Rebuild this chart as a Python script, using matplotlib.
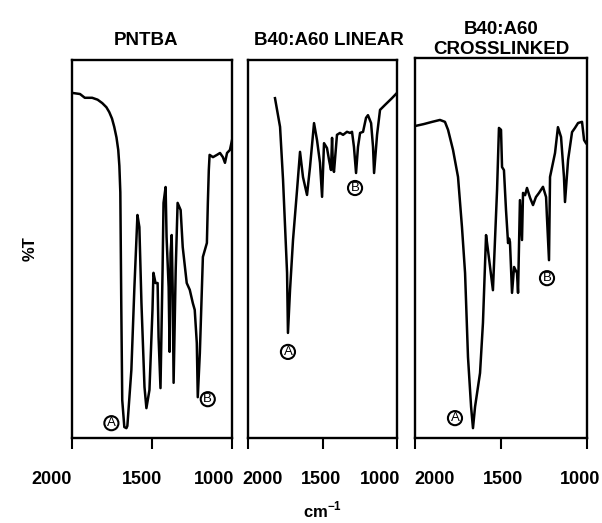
import numpy as np
import matplotlib
matplotlib.use("Agg")
import matplotlib.pyplot as plt
from matplotlib.transforms import ScaledTranslation

plt.rcParams['font.family'] = ['Liberation Sans', 'DejaVu Sans']

# Espectros IR (numero de onda cm-1, %T)
pntba_wn = [2000, 1950, 1920, 1874, 1840, 1811, 1785, 1767, 1750, 1736, 1722, 1711,
            1704, 1698, 1692, 1686, 1673, 1660, 1654, 1629, 1610, 1591, 1579, 1566,
            1547, 1535, 1516, 1497, 1491, 1478, 1465, 1459, 1447, 1434, 1428, 1415,
            1409, 1396, 1390, 1384, 1377, 1371, 1365, 1352, 1340, 1321, 1308, 1283,
            1264, 1245, 1233, 1220, 1214, 1201, 1182, 1157, 1151, 1145, 1140, 1119,
            1094, 1075, 1057, 1044, 1031, 1013, 1000]
pntba_t = [91.3, 91.0, 90.0, 90.0, 89.5, 88.6, 87.5, 86.2, 84.5, 82.3, 79.5, 76.2,
           72.0, 65.0, 35.0, 10.0, 2.9, 2.6, 3.2, 18.0, 39.9, 59.0, 55.8, 35.7,
           13.5, 7.9, 12.7, 33.9, 43.7, 41.0, 41.0, 26.7, 13.2, 44.4, 62.2, 66.4,
           53.2, 39.9, 22.8, 48.9, 53.7, 39.9, 14.6, 44.4, 62.2, 60.3, 50.5, 41.0,
           39.2, 35.7, 33.9, 25.1, 10.8, 22.5, 47.9, 51.6, 62.2, 70.9, 74.9, 74.3,
           74.9, 75.4, 74.3, 72.8, 75.4, 76.2, 78.8]

lin_wn = [1819, 1785, 1765, 1738, 1732, 1718, 1698, 1671, 1651, 1631, 1604, 1584,
          1557, 1537, 1517, 1503, 1490, 1470, 1456, 1443, 1436, 1430, 1423, 1403,
          1383, 1362, 1336, 1315, 1302, 1289, 1275, 1262, 1248, 1228, 1208, 1195,
          1174, 1161, 1154, 1134, 1114, 1081, 1034, 1000]
lin_t = [89.9, 82.3, 68.3, 43.7, 27.8, 39.2, 52.4, 65.6, 75.7, 69.0, 64.3, 71.7,
         83.3, 78.8, 72.8, 63.8, 78.0, 76.7, 73.5, 70.9, 79.4, 71.7, 70.4, 80.2,
         80.7, 80.2, 81.0, 80.7, 81.0, 77.0, 70.1, 77.0, 80.7, 81.0, 84.7, 85.4,
         83.3, 77.0, 70.1, 80.2, 86.8, 88.1, 89.9, 91.3]

xl_wn = [2000, 1950, 1900, 1855, 1826, 1808, 1779, 1750, 1727, 1709, 1692, 1674,
         1663, 1651, 1622, 1605, 1587, 1576, 1547, 1535, 1523, 1512, 1500, 1494,
         1483, 1471, 1459, 1453, 1448, 1436, 1424, 1407, 1401, 1390, 1378, 1372,
         1360, 1349, 1331, 1314, 1297, 1279, 1256, 1238, 1233, 1221, 1215, 1186,
         1169, 1151, 1134, 1128, 1110, 1087, 1070, 1052, 1029, 1017, 1006]
xl_t = [82.1, 82.6, 83.2, 83.7, 83.2, 81.1, 75.8, 68.7, 55.5, 43.4, 21.3, 8.2,
        2.6, 8.2, 17.1, 30.3, 53.4, 49.5, 38.9, 52.1, 65.3, 81.6, 81.1, 71.3,
        70.5, 60.0, 51.3, 52.5, 51.6, 38.2, 45.0, 43.4, 38.2, 62.6, 52.1, 64.5,
        63.9, 65.8, 63.2, 61.3, 63.4, 64.5, 66.1, 63.4, 58.2, 46.8, 68.7, 75.0,
        81.8, 79.2, 68.7, 62.1, 73.2, 80.5, 81.6, 82.9, 83.2, 78.4, 77.6]

titles = ["PNTBA", "B40:A60 LINEAR", "B40:A60\nCROSSLINKED"]
ticks = [2000, 1500, 1000]
tick_labels = ["2000", "1500", "1000"]

# bandas marcadas A (carbonilo) y B
band_a = [1660, 1732, 1663]
band_b = [1214, 1275, 1221]

spectra = [(pntba_wn, pntba_t), (lin_wn, lin_t), (xl_wn, xl_t)]

fig = plt.figure(figsize=(6.02, 5.23), dpi=100)
axes_rect = [
    [0.1196, 0.1625, 0.2658, 0.7228],
    [0.4120, 0.1625, 0.2475, 0.7228],
    [0.6894, 0.1625, 0.2857, 0.7266],
]
title_x = [0.4625, 0.54, 0.50]
title_pad = [11, 11, 1]
# desplazamiento horizontal de las etiquetas (px)
label_shift = [[-20, -10, -18], [15, -2, -17], [20, 2, -7]]
# posicion de los circulos respecto a la banda (px)
off_a = [(-15, 5), (0, -19), (-18, 10)]
off_b = [(10, -2), (-1, -15), (-2, -18)]

for i, ax in enumerate([fig.add_axes(r) for r in axes_rect]):
    wn, t = spectra[i]
    ax.plot(wn, t, color='black', lw=1.8, solid_joinstyle='round')
    ax.set_xlim(2000, 1000)
    ax.set_ylim(0, 100)
    ax.set_yticks([])
    ax.set_xticks(ticks)
    ax.set_xticklabels(tick_labels, fontsize=13, fontweight='bold')
    ax.tick_params(axis='x', direction='out', length=8, width=1.5, pad=16)
    for s in ax.spines.values():
        s.set_linewidth(1.7)
    for lab, dx in zip(ax.get_xticklabels(), label_shift[i]):
        lab.set_transform(lab.get_transform() +
                          ScaledTranslation(dx / 100, 0, fig.dpi_scale_trans))
    ax.set_title(titles[i], x=title_x[i], pad=title_pad[i], fontsize=13.5,
                 fontweight='bold', linespacing=1.25)

    for letter, wband, off in (("A", band_a[i], off_a[i]), ("B", band_b[i], off_b[i])):
        tb = np.interp(wband, wn[::-1], t[::-1])
        ax.annotate(letter, xy=(wband, tb), xytext=off, textcoords='offset pixels',
                    ha='center', va='center', fontsize=9.5,
                    bbox=dict(boxstyle='circle,pad=0.08', fc='white', ec='black', lw=1.5))

fig.text(0.05, 0.525, "%T", rotation=90, ha='center', va='center',
         fontsize=12, fontweight='bold')
fig.text(0.535, 0.025, r"cm$^{\mathregular{-1}}$", ha='center', va='center',
         fontsize=12, fontweight='bold')

fig.savefig("out.png", dpi=100)
